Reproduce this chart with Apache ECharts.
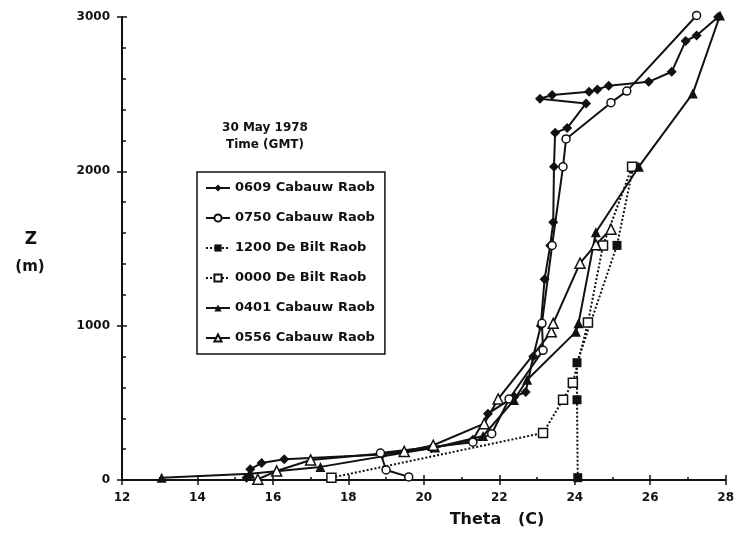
<!DOCTYPE html>
<html>
<head>
<meta charset="utf-8">
<script src="https://cdn.jsdelivr.net/npm/echarts@6/dist/echarts.min.js"></script>
<style>
  html, body { margin: 0; padding: 0; background: #fff; }
  #chart { width: 737px; height: 544px; }
</style>
</head>
<body>
<div id="chart"></div>
<script>
// Potential temperature profiles, 30 May 1978: [theta (C), height (m)]
const sounding0609 = [
  [15.3, 15], [15.4, 70], [15.7, 110], [16.3, 135], [18.9, 165], [20.2, 205],
  [21.3, 260], [21.7, 430], [22.4, 540], [22.7, 570], [22.9, 800], [23.1, 1000],
  [23.2, 1300], [23.35, 1520], [23.43, 1670], [23.45, 2030], [23.48, 2250],
  [23.8, 2280], [24.3, 2440], [23.08, 2470], [23.4, 2495], [24.38, 2515],
  [24.6, 2530], [24.9, 2555], [25.96, 2580], [26.57, 2645], [26.94, 2845],
  [27.23, 2880], [27.8, 3000]
];
const sounding0750 = [
  [19.6, 20], [19.0, 65], [18.85, 175], [21.3, 245], [21.8, 300], [22.26, 525],
  [23.16, 840], [23.13, 1015], [23.4, 1520], [23.69, 2030], [23.77, 2210],
  [24.96, 2445], [25.38, 2520], [27.23, 3010]
];
const deBilt1200 = [
  [24.08, 15], [24.06, 520], [24.06, 760], [25.12, 1520], [25.55, 2030]
];
const deBilt0000 = [
  [17.55, 15], [23.16, 305], [23.69, 520], [23.95, 630], [24.35, 1020],
  [24.75, 1520], [25.52, 2030]
];
const sounding0401 = [
  [13.05, 15], [15.4, 40], [17.26, 85], [20.3, 210], [21.57, 285], [22.39, 518],
  [22.74, 650], [24.03, 960], [24.1, 1015], [24.56, 1605], [25.7, 2030],
  [27.13, 2505], [27.85, 3010]
];
const sounding0556 = [
  [15.6, 5], [16.1, 58], [17.0, 130], [19.48, 185], [20.25, 225], [21.6, 365],
  [21.97, 525], [23.38, 960], [23.43, 1015], [24.14, 1405], [24.56, 1525],
  [24.96, 1625]
];

const seriesNames = [
  '0609 Cabauw Raob', '0750 Cabauw Raob', '1200 De Bilt Raob',
  '0000 De Bilt Raob', '0401 Cabauw Raob', '0556 Cabauw Raob'
];
const dateLine = '30 May 1978';
const timeLine = 'Time (GMT)';

const INK = '#111';
const FONT = 'DejaVu Sans';
const diamond = 'path://M0,-1L1,0L0,1L-1,0Z';

function profile(name, data, symbol, filled, dotted, size) {
  return {
    name: name,
    type: 'line',
    data: data,
    symbol: symbol,
    symbolSize: size,
    showSymbol: true,
    clip: false,
    animation: false,
    lineStyle: { color: INK, width: 2, type: dotted ? [2, 2] : 'solid' },
    itemStyle: { color: filled ? INK : '#fff', borderColor: INK, borderWidth: filled ? 0 : 1.5 }
  };
}

const chart = echarts.init(document.getElementById('chart'), null, { renderer: 'canvas' });

const tickLabel = { color: INK, fontFamily: FONT, fontSize: 12, fontWeight: 'bold' };

chart.setOption({
  backgroundColor: '#fff',
  animation: false,
  grid: { left: 122, right: 10, top: 17, bottom: 64, containLabel: false },
  xAxis: [
    {
      type: 'value', min: 12, max: 28, interval: 2,
      axisLine: { show: true, onZero: false, lineStyle: { color: INK, width: 2 } },
      axisTick: { show: true, length: 5, lineStyle: { color: INK, width: 1.5 } },
      axisLabel: Object.assign({ margin: 12, formatter: v => String(v) }, tickLabel),
      splitLine: { show: false }
    },
    {
      type: 'value', min: 12, max: 28, interval: 2, position: 'bottom',
      axisLine: { show: false },
      axisTick: { show: true, inside: true, length: 5, lineStyle: { color: INK, width: 1.5 } },
      minorTick: { show: true, splitNumber: 2, length: 3, lineStyle: { color: INK, width: 1.5 } },
      axisLabel: { show: false },
      splitLine: { show: false }
    }
  ],
  yAxis: [
    {
      type: 'value', min: 0, max: 3000, interval: 1000,
      axisLine: { show: true, onZero: false, lineStyle: { color: INK, width: 2 } },
      axisTick: { show: true, length: 5, lineStyle: { color: INK, width: 1.5 } },
      axisLabel: Object.assign({ margin: 12, formatter: v => String(v) }, tickLabel),
      splitLine: { show: false }
    },
    {
      type: 'value', min: 0, max: 3000, interval: 1000, position: 'left',
      axisLine: { show: false },
      axisTick: { show: true, inside: true, length: 5, lineStyle: { color: INK, width: 1.5 } },
      minorTick: { show: true, splitNumber: 5, length: 4, lineStyle: { color: INK, width: 1.5 } },
      axisLabel: { show: false },
      splitLine: { show: false }
    }
  ],
  legend: {
    orient: 'vertical',
    left: 197, top: 172,
    padding: [8, 10, 8, 8],
    itemGap: 14,
    itemWidth: 24, itemHeight: 9,
    borderColor: INK, borderWidth: 1.5,
    backgroundColor: '#fff',
    textStyle: { color: INK, fontFamily: FONT, fontSize: 13, fontWeight: 'bold', lineHeight: 16 },
    data: seriesNames
  },
  graphic: [
    { type: 'text', x: 265, y: 128, style: { text: dateLine, fill: INK, font: 'bold 12px "DejaVu Sans"', align: 'center', verticalAlign: 'middle' } },
    { type: 'text', x: 265, y: 145, style: { text: timeLine, fill: INK, font: 'bold 12px "DejaVu Sans"', align: 'center', verticalAlign: 'middle' } },
    { type: 'text', x: 31, y: 240, style: { text: 'Z', fill: INK, font: 'bold 17px "DejaVu Sans"', align: 'center', verticalAlign: 'middle' } },
    { type: 'text', x: 30, y: 267, style: { text: '(m)', fill: INK, font: 'bold 15px "DejaVu Sans"', align: 'center', verticalAlign: 'middle' } },
    { type: 'text', x: 497, y: 520, style: { text: 'Theta   (C)', fill: INK, font: 'bold 16px "DejaVu Sans"', align: 'center', verticalAlign: 'middle' } }
  ],
  series: [
    profile(seriesNames[0], sounding0609, diamond, true, false, 10),
    profile(seriesNames[1], sounding0750, 'circle', false, false, 8),
    profile(seriesNames[2], deBilt1200, 'rect', true, true, 9),
    profile(seriesNames[3], deBilt0000, 'rect', false, true, 9),
    profile(seriesNames[4], sounding0401, 'triangle', true, false, 10),
    profile(seriesNames[5], sounding0556, 'triangle', false, false, 10)
  ]
});
</script>
</body>
</html>
